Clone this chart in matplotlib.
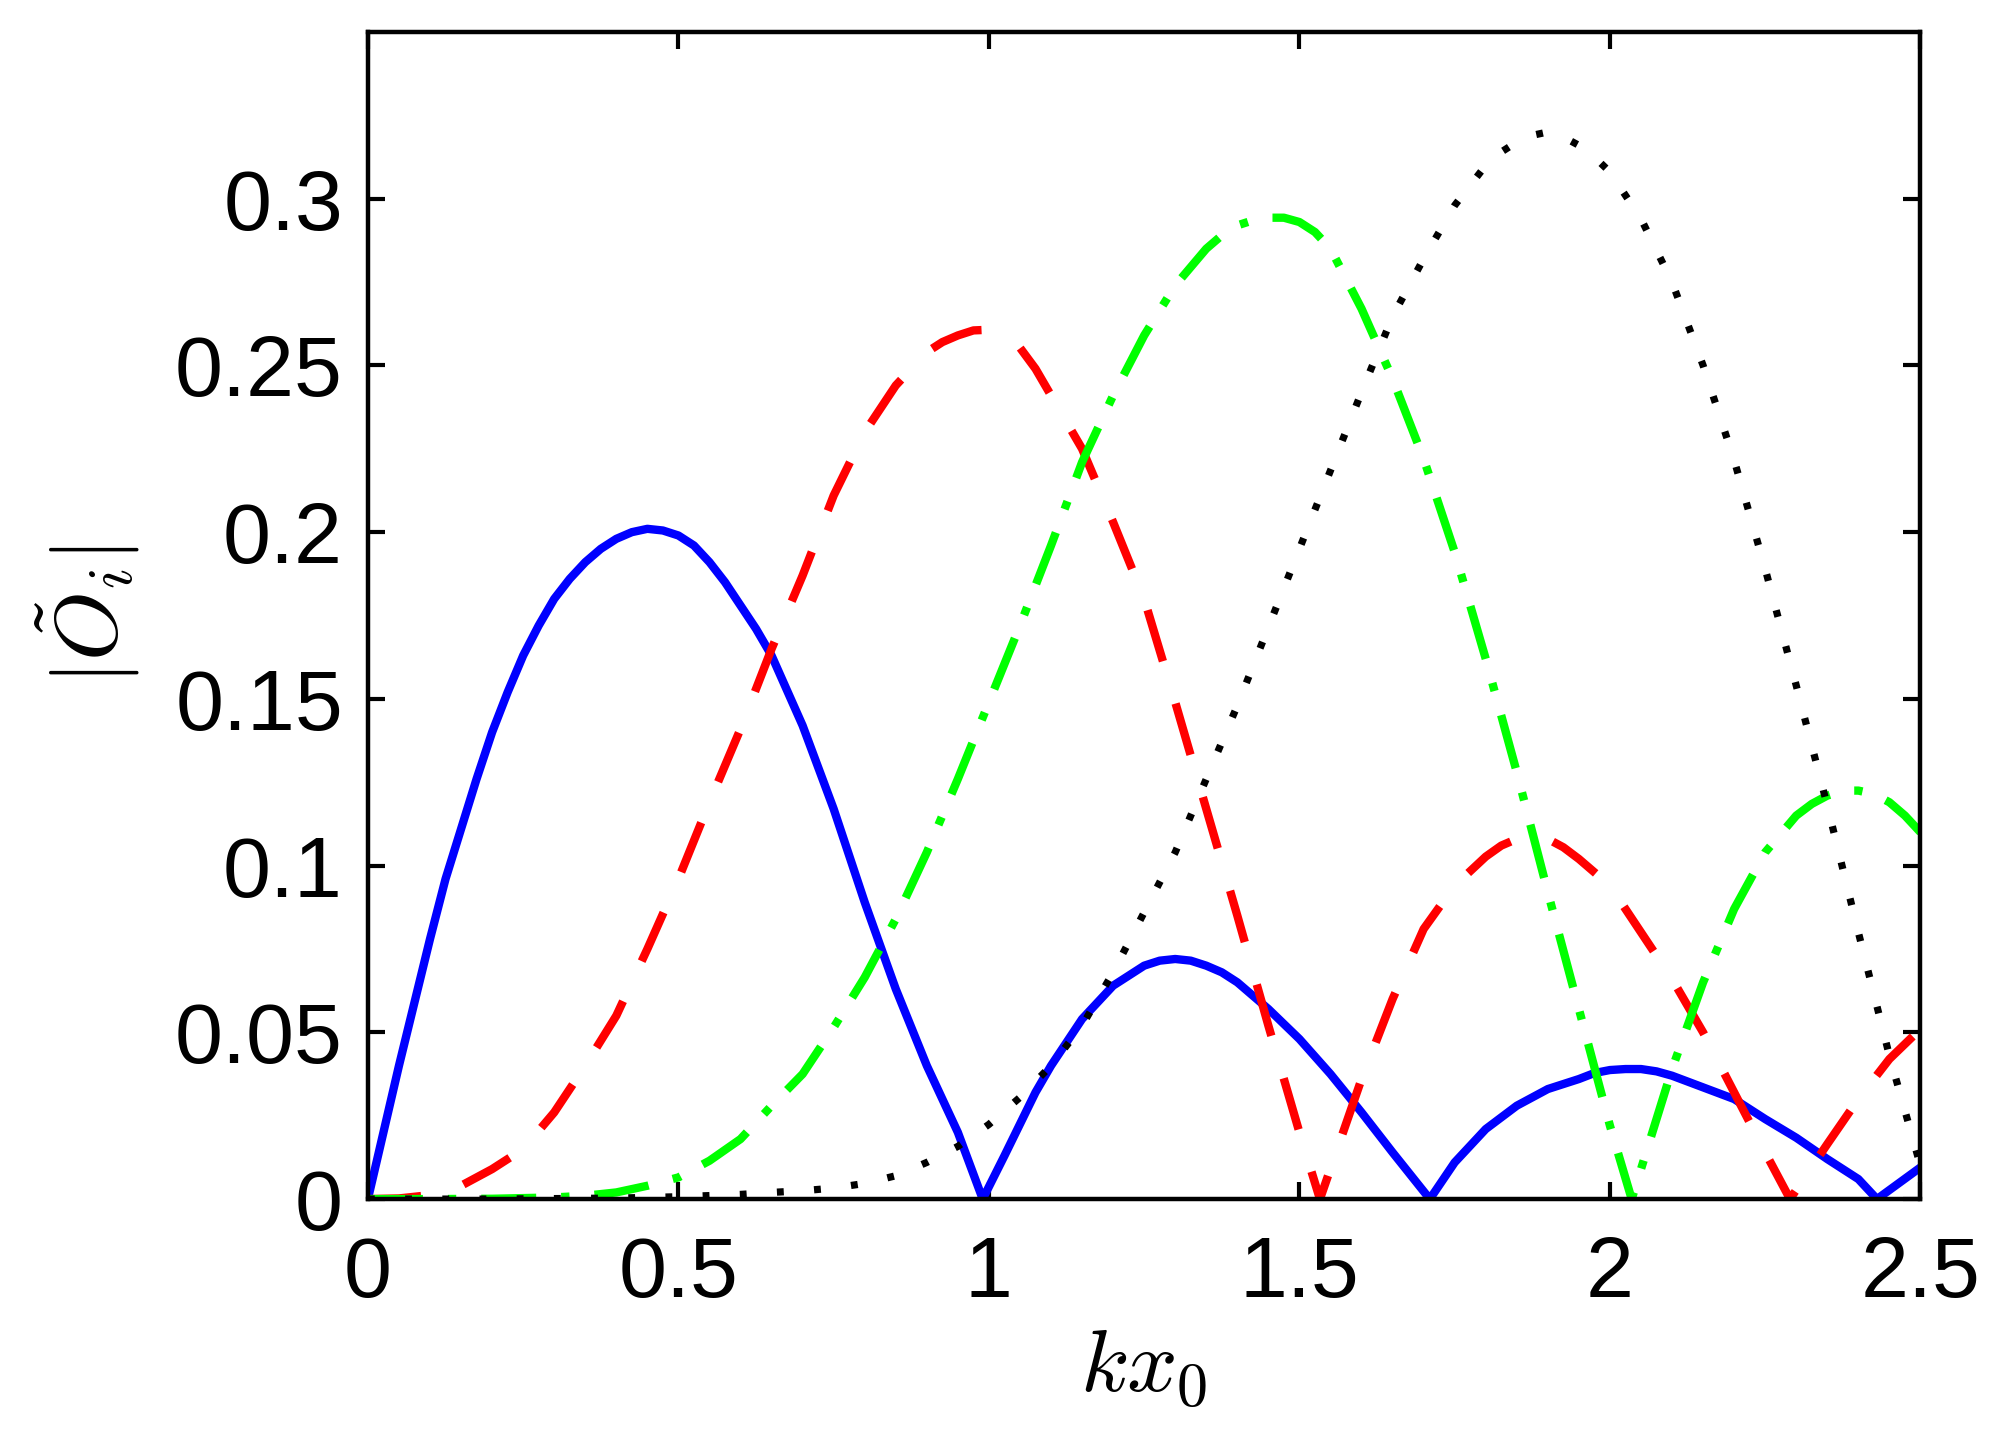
import matplotlib
matplotlib.use("Agg")
import matplotlib.pyplot as plt

plt.rcParams['font.family'] = ['Liberation Sans', 'DejaVu Sans']
plt.rcParams['mathtext.fontset'] = 'cm'

# values
x_blue = [0, 0.025, 0.05, 0.075, 0.1, 0.125, 0.15, 0.175, 0.2, 0.225, 0.25,
          0.275, 0.3, 0.325, 0.35, 0.375, 0.4, 0.425, 0.45, 0.475, 0.5,
          0.525, 0.55, 0.575, 0.6, 0.625, 0.65, 0.7, 0.75, 0.8, 0.85, 0.9,
          0.95, 0.99, 1.025, 1.05, 1.075, 1.1, 1.125, 1.15, 1.175, 1.2, 1.225,
          1.25, 1.275, 1.3, 1.325, 1.35, 1.375, 1.4, 1.425, 1.45, 1.5, 1.55,
          1.6, 1.65, 1.71, 1.75, 1.8, 1.85, 1.9, 1.95, 1.975, 2.0, 2.025,
          2.05, 2.075, 2.1, 2.15, 2.2, 2.25, 2.3, 2.35, 2.4, 2.43, 2.5]
y_blue = [0, 0.020, 0.040, 0.059, 0.078, 0.096, 0.111, 0.126, 0.140, 0.152,
          0.163, 0.172, 0.180, 0.186, 0.191, 0.195, 0.198, 0.200, 0.201,
          0.2005, 0.199, 0.196, 0.191, 0.185, 0.178, 0.171, 0.163, 0.142,
          0.117, 0.089, 0.063, 0.040, 0.020, 0, 0.013, 0.0225, 0.032, 0.040,
          0.047, 0.054, 0.059, 0.064, 0.067, 0.070, 0.0715, 0.072, 0.0715,
          0.070, 0.068, 0.065, 0.061, 0.057, 0.048, 0.0375, 0.026, 0.014, 0,
          0.011, 0.021, 0.028, 0.033, 0.036, 0.0378, 0.0387, 0.039, 0.039,
          0.0383, 0.037, 0.0335, 0.030, 0.024, 0.0184, 0.012, 0.006, 0,
          0.0095]

x_red = [0, 0.05, 0.1, 0.15, 0.2, 0.25, 0.3, 0.35, 0.4, 0.45, 0.5, 0.55, 0.6,
         0.65, 0.7, 0.75, 0.8, 0.85, 0.875, 0.9, 0.925, 0.95, 0.975, 1.0,
         1.025, 1.05, 1.075, 1.1, 1.15, 1.2, 1.25, 1.3, 1.35, 1.4, 1.45, 1.5,
         1.533, 1.6, 1.65, 1.7, 1.75, 1.8, 1.825, 1.85, 1.875, 1.9, 1.925,
         1.95, 2.0, 2.05, 2.1, 2.15, 2.2, 2.25, 2.29, 2.35, 2.4, 2.45, 2.5]
y_red = [0, 0.0002, 0.0012, 0.004, 0.009, 0.015, 0.026, 0.040, 0.055, 0.075,
         0.096, 0.119, 0.141, 0.165, 0.187, 0.211, 0.230, 0.244, 0.249,
         0.254, 0.257, 0.259, 0.2605, 0.2607, 0.259, 0.2553, 0.249, 0.241,
         0.225, 0.203, 0.180, 0.149, 0.117, 0.085, 0.052, 0.020, 0, 0.036,
         0.060, 0.081, 0.094, 0.1027, 0.106, 0.108, 0.109, 0.108, 0.1055,
         0.102, 0.094, 0.080, 0.066, 0.050, 0.032, 0.014, 0, 0.0165, 0.030,
         0.042, 0.051]

x_green = [0, 0.1, 0.2, 0.3, 0.35, 0.4, 0.45, 0.5, 0.55, 0.6, 0.65, 0.7,
           0.75, 0.8, 0.85, 0.9, 0.95, 1.0, 1.05, 1.1, 1.15, 1.2, 1.25, 1.3,
           1.35, 1.375, 1.4, 1.425, 1.45, 1.475, 1.5, 1.525, 1.55, 1.6, 1.65,
           1.7, 1.75, 1.8, 1.85, 1.9, 1.95, 2.0, 2.035, 2.1, 2.15, 2.2, 2.25,
           2.3, 2.325, 2.35, 2.375, 2.4, 2.425, 2.45, 2.475, 2.5]
y_green = [0, 0, 0.0001, 0.0005, 0.001, 0.002, 0.004, 0.0065, 0.0115, 0.018,
           0.028, 0.0375, 0.0515, 0.0665, 0.084, 0.104, 0.126, 0.149, 0.172,
           0.196, 0.221, 0.241, 0.259, 0.274, 0.285, 0.289, 0.292, 0.2935,
           0.2943, 0.2943, 0.293, 0.290, 0.285, 0.267, 0.246, 0.222, 0.194,
           0.162, 0.128, 0.092, 0.057, 0.022, 0, 0.039, 0.065, 0.087, 0.104,
           0.115, 0.1185, 0.121, 0.1225, 0.1225, 0.1215, 0.119, 0.115, 0.110]

x_black = [0, 0.2, 0.4, 0.5, 0.6, 0.65, 0.7, 0.75, 0.8, 0.85, 0.9, 0.95, 1.0,
           1.05, 1.1, 1.15, 1.2, 1.25, 1.3, 1.35, 1.4, 1.45, 1.5, 1.55, 1.6,
           1.65, 1.7, 1.75, 1.8, 1.825, 1.85, 1.875, 1.9, 1.925, 1.95, 1.975,
           2.0, 2.05, 2.1, 2.15, 2.2, 2.25, 2.3, 2.35, 2.4, 2.45, 2.5]
y_black = [0, 0, 0.0003, 0.0007, 0.0014, 0.002, 0.0025, 0.0033, 0.0047,
           0.007, 0.011, 0.0158, 0.0224, 0.0305, 0.040, 0.052, 0.068, 0.086,
           0.104, 0.126, 0.148, 0.1715, 0.195, 0.2185, 0.242, 0.2647, 0.282,
           0.298, 0.310, 0.314, 0.317, 0.319, 0.320, 0.3185, 0.316, 0.3125,
           0.308, 0.294, 0.275, 0.25, 0.2216, 0.189, 0.154, 0.118, 0.080,
           0.043, 0.010]

xticks = [0, 0.5, 1, 1.5, 2, 2.5]
xticklabels = ['0', '0.5', '1', '1.5', '2', '2.5']
yticks = [0, 0.05, 0.1, 0.15, 0.2, 0.25, 0.3]
yticklabels = ['0', '0.05', '0.1', '0.15', '0.2', '0.25', '0.3']

fig = plt.figure(figsize=(9.965, 7.2), dpi=200)
ax = fig.add_axes([0.1846, 0.1673, 0.779, 0.8105])

lw = 3.0
ax.plot(x_blue, y_blue, color=(0, 0, 1), lw=lw, linestyle='-')
ax.plot(x_red, y_red, color=(1, 0, 0), lw=lw, dashes=(6.4, 5.3))
ax.plot(x_green, y_green, color=(0, 1, 0), lw=lw, dashes=(6.6, 3.0, 1.0, 3.0))
ax.plot(x_black, y_black, color='black', lw=2.6, dashes=(0.95, 4.2))

ax.set_xlim(0, 2.5)
ax.set_ylim(0, 0.35)
ax.set_xticks(xticks)
ax.set_xticklabels(xticklabels)
ax.set_yticks(yticks)
ax.set_yticklabels(yticklabels)

ax.tick_params(direction='in', length=6, width=1.5, top=True, right=True,
               labelsize=31)
ax.tick_params(axis='x', pad=13)
ax.tick_params(axis='y', pad=9)
for s in ax.spines.values():
    s.set_linewidth(1.6)

ax.set_xlabel(r'$kx_0$', fontsize=32, labelpad=4)
ax.set_ylabel(r'$|\tilde{O}_i|$', fontsize=32, labelpad=12)

fig.savefig('out.png', dpi=200)
